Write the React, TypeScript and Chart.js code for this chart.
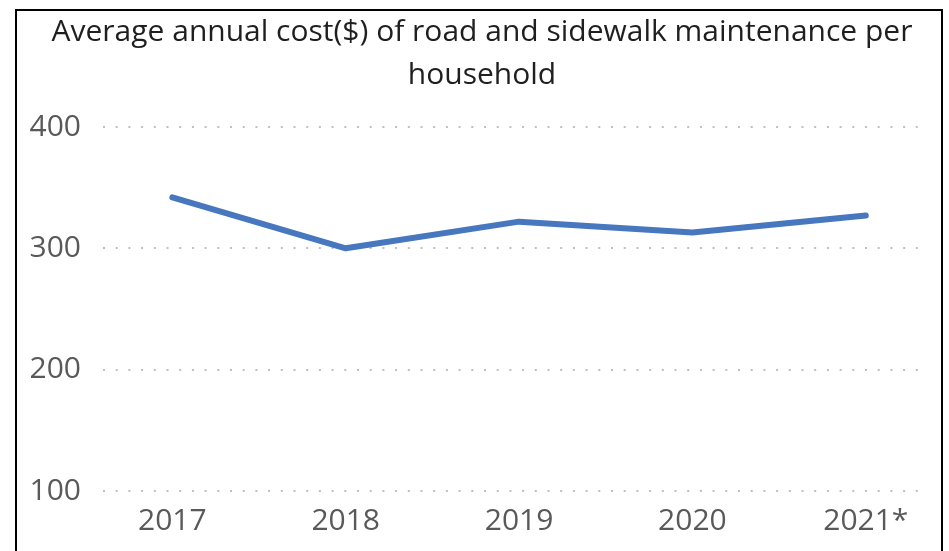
import React, { useEffect, useRef } from "react";
import { Chart, registerables } from "chart.js";

Chart.register(...registerables);

const categories: string[] = ["2017", "2018", "2019", "2020", "2021*"];
const costValues: number[] = [342, 300, 322, 313, 327];
const yTicks: number[] = [100, 200, 300, 400];
const titleLines: string[] = [
  "Average annual cost($) of road and sidewalk maintenance per",
  "household",
];

const FONT = "'Open Sans', sans-serif";

export default function App() {
  const canvasRef = useRef<HTMLCanvasElement | null>(null);

  useEffect(() => {
    if (!canvasRef.current) return;
    const chart = new Chart(canvasRef.current, {
      type: "line",
      data: {
        datasets: [
          {
            label: "Cost",
            data: costValues.map((v, i) => ({ x: i, y: v })),
            borderColor: "#4677BF",
            borderWidth: 6,
            borderCapStyle: "round",
            borderJoinStyle: "round",
            pointRadius: 0,
            tension: 0,
            fill: false,
          },
        ],
      },
      options: {
        animation: false,
        responsive: false,
        layout: { padding: { left: 0, right: 26, top: 127, bottom: 0 } },
        plugins: {
          legend: { display: false },
          tooltip: { enabled: false },
          title: { display: false },
        },
        scales: {
          x: {
            type: "linear",
            min: -0.4,
            max: 4.33,
            afterBuildTicks: (scale: any) => {
              scale.ticks = categories.map((_, i) => ({ value: i }));
            },
            afterFit: (scale: any) => {
              scale.height = 60;
            },
            ticks: {
              callback: (v: any) => categories[Number(v)] ?? "",
              color: "#595959",
              font: { family: FONT, size: 30 },
              padding: 12,
              maxRotation: 0,
              autoSkip: false,
            },
            grid: { display: false, drawTicks: false },
            border: { display: false },
          },
          y: {
            min: 100,
            max: 400,
            afterBuildTicks: (scale: any) => {
              scale.ticks = yTicks.map((v) => ({ value: v }));
            },
            afterFit: (scale: any) => {
              scale.width = 103;
            },
            ticks: {
              color: "#595959",
              font: { family: FONT, size: 30 },
              padding: 22,
            },
            grid: {
              color: "#BFBFBF",
              lineWidth: 2,
              drawTicks: false,
            },
            border: { display: false, dash: [2, 10.7] },
          },
        },
      },
    });
    return () => chart.destroy();
  }, []);

  return (
    <div
      style={{
        position: "fixed",
        left: 0,
        top: 0,
        width: 949,
        height: 551,
        overflow: "hidden",
        background: "#fff",
      }}
    >
      <canvas
        ref={canvasRef}
        width={949}
        height={551}
        style={{ position: "absolute", left: 0, top: 0, width: 949, height: 551 }}
      />
      <div
        style={{
          position: "absolute",
          left: 20,
          top: 8,
          width: 924,
          fontFamily: FONT,
          fontSize: 30,
          lineHeight: "43px",
          color: "#1F1F1F",
          textAlign: "center",
          whiteSpace: "nowrap",
        }}
      >
        {titleLines.map((t, i) => (
          <div key={i}>{t}</div>
        ))}
      </div>
      <div
        style={{
          position: "absolute",
          left: 15,
          top: 9,
          width: 924,
          height: 600,
          border: "2px solid #000",
          pointerEvents: "none",
        }}
      />
    </div>
  );
}
